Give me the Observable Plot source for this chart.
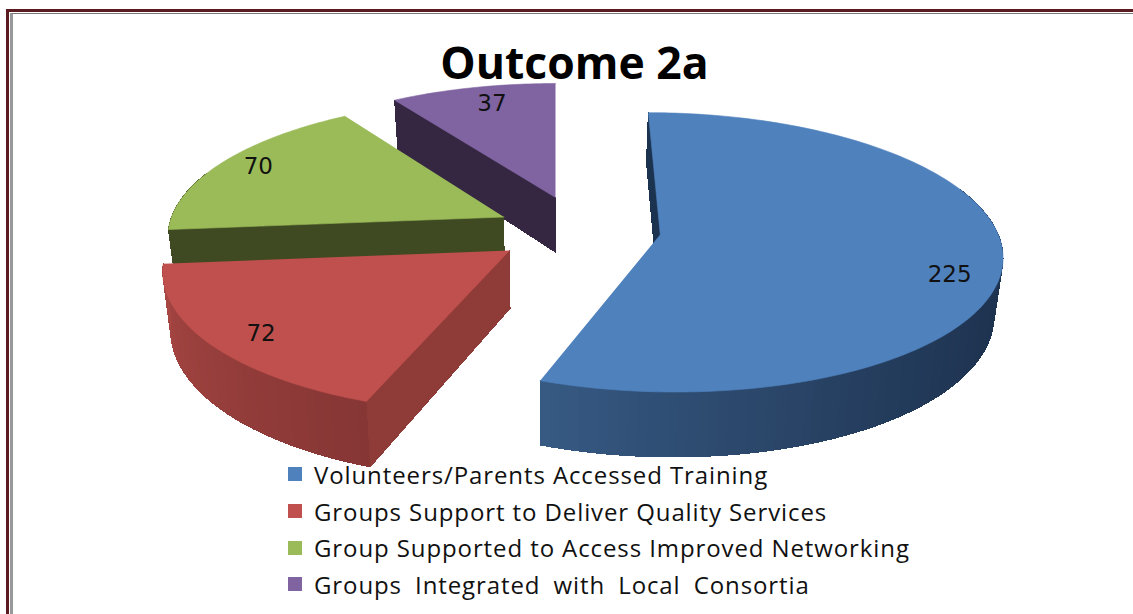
<!DOCTYPE html>
<html>
<head>
<meta charset="utf-8">
<script src="https://cdn.jsdelivr.net/npm/d3@7"></script>
<script src="https://cdn.jsdelivr.net/npm/@observablehq/plot@0.6"></script>
<style>
html,body{margin:0;padding:0;background:#fff;overflow:hidden;}
body{width:1133px;height:614px;position:relative;font-family:"Open Sans",sans-serif;color:#111;}
#frame{position:absolute;left:6px;top:9px;right:-10px;bottom:-10px;border-left:3px solid #5a1c20;border-top:3px solid #5a1c20;}
#frame div{position:absolute;left:1px;top:1px;right:0;bottom:0;border-left:3px solid #999;border-top:1px solid #777;}
#title{position:absolute;left:0;width:1149px;top:32px;height:50px;line-height:60px;text-align:center;font-weight:700;font-size:44.5px;color:#000;}
#chart{position:absolute;left:0;top:82px;}
#legend{position:absolute;left:288px;top:456px;}
.row{height:36.7px;display:flex;align-items:center;font-size:24px;letter-spacing:0.9px;white-space:nowrap;}
.row:last-child{word-spacing:6px;}
.row i{display:block;width:14px;height:14px;margin-right:12px;}
</style>
</head>
<body>
<div id="frame"><div></div></div>
<div id="title">Outcome 2a</div>
<div id="chart"></div>
<div id="legend"></div>
<script>
const categories = ["Volunteers/Parents Accessed Training","Groups Support to Deliver Quality Services","Group Supported to Access Improved Networking","Groups Integrated with Local Consortia"];
const values = [225, 72, 70, 37];
const colors = ["#4f81bd","#c0504d","#9bbb59","#8064a2"];
const cutColors = ["#1c3350","#8f3b38","#3f4a22","#352641"];
const wallFrom = ["#1e3350","#863635","#3f4a22","#352641"];
const wallTo = ["#375a84","#a84743","#3f4a22","#352641"];
// layout of the exploded, tilted disc
const explodeU = [0.31,-0.134,-0.155,0];
const explodeV = [-0.115,0,-0.244,-0.394];
const labelShiftX = [-1,3,-5,8];
const labelShiftY = [19,5,-3,1];
const cam = {xc:555,yc:250,A:343,B:141.5,k:0.13,depth:57.5,baseScale:0.98};
const H = 392, svgTop = 82;

const w = v => 1/(1-cam.k*v);
const px = (u,v) => cam.xc + cam.A*u*w(v);
const py = (v) => cam.yc + cam.B*v*w(v);

const arcs = d3.pie().sort(null)(values);
const order = [3,2,1,0];
const labels = [];
const sliceMarks = [];
const add = (rows,id,color,pts) => pts.forEach(p => rows.push({id,color,x:p[0],y:p[1]}));

for (const i of order) {
  const wallRows = [], topRows = [];
  const {startAngle:a0,endAngle:a1} = arcs[i];
  const U0 = explodeU[i], V0 = explodeV[i];
  const up = t => U0+Math.sin(t), vp = t => V0-Math.cos(t);
  const P = (u,v,d=0) => {
    const s = d ? cam.baseScale : 1;
    return [cam.xc+(px(u,v)-cam.xc)*s, py(v)+d*cam.depth*w(v)];
  };
  const rim = t => P(up(t),vp(t));
  const rimD = t => P(up(t),vp(t),1);
  // the cut face that looks toward the viewer
  add(wallRows,`${i}-cut`,cutColors[i],[P(U0,V0),rim(a0),rimD(a0),P(U0,V0,1)]);
  // curved wall, shaded in thin strips
  const lo = Math.max(a0,70*Math.PI/180), hi = Math.min(a1,290*Math.PI/180);
  const n = Math.ceil((hi-lo)/(1.5*Math.PI/180));
  const ramp = d3.interpolateRgb(wallFrom[i],wallTo[i]);
  if (hi>lo) for (let j=0;j<n;j++){
    const t0 = lo+(hi-lo)*j/n, t1 = lo+(hi-lo)*(j+1)/n;
    const f = (j+.5)/n;
    const shade = i===0 ? ramp(Math.pow(Math.max(0,(f-.3)/.7),1.5)) : ramp(f);
    add(wallRows,`${i}-wall-${j}`,shade,[rim(t0),rim(t1),rimD(t1),rimD(t0)]);
  }
  // top face
  const m = Math.ceil((a1-a0)/(1*Math.PI/180));
  const face = [P(U0,V0)];
  for (let j=0;j<=m;j++) face.push(rim(a0+(a1-a0)*j/m));
  add(topRows,`${i}-top`,colors[i],face);
  const mid = (a0+a1)/2, r = 0.85;
  const lp = P(U0+r*Math.sin(mid),V0-r*Math.cos(mid));
  labels.push({text:String(values[i]),x:lp[0]+labelShiftX[i],y:lp[1]+labelShiftY[i]});
  sliceMarks.push(
    Plot.line(wallRows,{x:"x",y:"y",z:"id",fill:"color",stroke:"color",strokeWidth:1,shapeRendering:"crispEdges"}),
    Plot.line(topRows,{x:"x",y:"y",z:"id",fill:"color",stroke:"color",strokeWidth:0.6})
  );
}

const plot = Plot.plot({
  width:1133,height:H,margin:0,
  x:{domain:[0,1133],range:[0,1133],axis:null},
  y:{domain:[svgTop,svgTop+H],range:[0,H],axis:null},
  color:{type:"identity"},
  style:{background:"transparent",overflow:"visible"},
  marks:[
    ...sliceMarks,
    Plot.text(labels,{x:"x",y:"y",text:"text",fontSize:23,fontFamily:"DejaVu Sans",fill:"#111"})
  ]
});
document.getElementById("chart").append(plot);
const lg = document.getElementById("legend");
categories.forEach((c,i)=>{
  const r=document.createElement("div");r.className="row";
  const s=document.createElement("i");s.style.background=colors[i];
  const t=document.createElement("span");t.textContent=c;
  r.append(s,t);lg.append(r);
});
</script>
</body>
</html>
